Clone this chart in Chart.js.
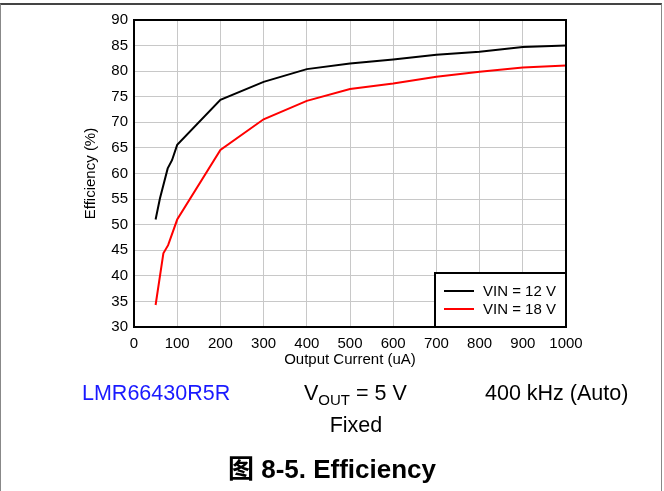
<!DOCTYPE html>
<html>
<head>
<meta charset="utf-8">
<script src="https://cdn.jsdelivr.net/npm/chart.js@4/dist/chart.umd.min.js"></script>
<style>
  html, body { margin: 0; padding: 0; background: #fff; }
  body { width: 664px; height: 491px; position: relative; overflow: hidden; font-family: "Liberation Sans", Arial, sans-serif; }
  #frame { position: absolute; left: 0; top: 3px; width: 662px; height: 490px; border-top: 2px solid #444; border-left: 1px solid #888; border-right: 1px solid #888; box-sizing: border-box; }
  #wrap { position: absolute; left: 0; top: 0; width: 664px; height: 491px; }
  .t { position: absolute; white-space: nowrap; color: #000; }
</style>
</head>
<body>
<div id="frame"></div>
<div id="wrap"><canvas id="c" width="664" height="491"></canvas></div>
<div class="t" style="left:82px; top:381px; font-size:21.5px; color:#1a1aff;">LMR66430R5R</div>
<div class="t" style="left:304px; top:381px; font-size:21.5px;">V<sub style="font-size:15px; vertical-align:-5px;">OUT</sub> = 5 V</div>
<div class="t" style="left:485px; top:381px; font-size:21.5px;">400 kHz (Auto)</div>
<div class="t" style="left:0; width:712px; text-align:center; top:413px; font-size:21.5px;">Fixed</div>
<div class="t" style="left:0; width:664px; text-align:center; top:448px; font-size:26px; font-weight:bold; font-family:'Liberation Sans','Noto Sans CJK SC',sans-serif;">图 8-5. Efficiency</div>
<script>
// ---- data ----
const current12 = [50, 60, 78, 88, 100, 200, 300, 400, 500, 600, 700, 800, 900, 1000];
const eff12     = [51.0, 55.1, 61.0, 62.6, 65.6, 74.4, 77.9, 80.4, 81.5, 82.3, 83.2, 83.8, 84.7, 85.0];
const current18 = [50, 68, 79, 100, 200, 300, 400, 500, 600, 700, 800, 900, 1000];
const eff18     = [34.3, 44.4, 46.0, 51.0, 64.6, 70.6, 74.2, 76.5, 77.6, 78.9, 79.9, 80.7, 81.1];
const seriesLabels = ["VIN = 12 V", "VIN = 18 V"];
const xTitle = "Output Current (uA)";
const yTitle = "Efficiency (%)";

const toPts = (xs, ys) => xs.map((x, i) => ({ x: x, y: ys[i] }));

const framePlugin = {
  id: 'frame',
  afterDatasetsDraw(chart) {
    const { ctx, chartArea: a } = chart;
    ctx.save();
    ctx.strokeStyle = '#000';
    ctx.lineWidth = 2;
    ctx.strokeRect(a.left, a.top, a.right - a.left, a.bottom - a.top);
    // legend box inside plot, bottom-right
    const w = 131, h = 54;
    const x0 = a.right - w, y0 = a.bottom - h;
    ctx.fillStyle = '#fff';
    ctx.fillRect(x0, y0, w, h);
    ctx.lineWidth = 2;
    ctx.strokeRect(x0, y0, w, h);
    ctx.font = '15px "Liberation Sans", Arial, sans-serif';
    ctx.textBaseline = 'middle';
    ctx.textAlign = 'left';
    chart.data.datasets.forEach((ds, i) => {
      const yy = y0 + 18 + i * 18;
      ctx.strokeStyle = ds.borderColor;
      ctx.lineWidth = 2;
      ctx.beginPath();
      ctx.moveTo(x0 + 9, yy);
      ctx.lineTo(x0 + 39, yy);
      ctx.stroke();
      ctx.fillStyle = '#000';
      ctx.fillText(ds.label, x0 + 48, yy + 1);
    });
    ctx.restore();
  }
};

const tickFont = { size: 15, family: '"Liberation Sans", Arial, sans-serif' };

new Chart(document.getElementById('c'), {
  type: 'line',
  data: {
    datasets: [
      { label: seriesLabels[0], data: toPts(current12, eff12), borderColor: '#000000', borderWidth: 2, pointRadius: 0, tension: 0, fill: false },
      { label: seriesLabels[1], data: toPts(current18, eff18), borderColor: '#ff0000', borderWidth: 2, pointRadius: 0, tension: 0, fill: false }
    ]
  },
  options: {
    responsive: false,
    animation: false,
    layout: { padding: { left: 80, top: 20, right: 98, bottom: 121 } },
    plugins: { legend: { display: false }, tooltip: { enabled: false } },
    scales: {
      x: {
        type: 'linear', min: 0, max: 1000,
        ticks: { stepSize: 100, color: '#000', padding: 8, maxRotation: 0, font: tickFont, callback: (v) => String(v) },
        grid: { color: '#c8c8c8', lineWidth: 1, drawTicks: false },
        border: { display: false },
        title: { display: true, text: xTitle, color: '#000', padding: { top: 0, bottom: 1 }, font: tickFont },
        afterFit: (s) => { s.height = 43; }
      },
      y: {
        min: 30, max: 90,
        ticks: { stepSize: 5, color: '#000', padding: 6, font: tickFont },
        grid: { color: '#c8c8c8', lineWidth: 1, drawTicks: false },
        border: { display: false },
        title: { display: true, text: yTitle, color: '#000', padding: { top: 2, bottom: 0 }, font: tickFont },
        afterFit: (s) => { s.width = 54; }
      }
    }
  },
  plugins: [framePlugin]
});
</script>
</body>
</html>
